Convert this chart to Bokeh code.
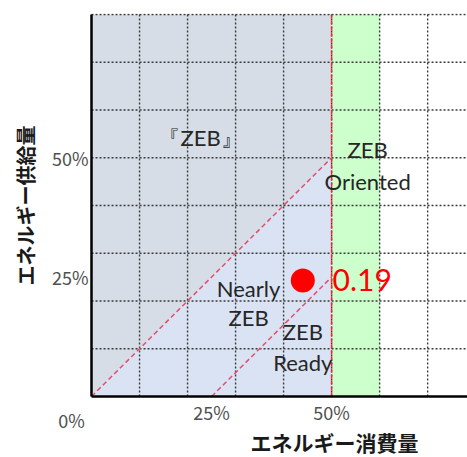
from bokeh.plotting import figure
from bokeh.models import Range1d, FixedTicker, ColumnDataSource
from bokeh.core.properties import value
from bokeh.embed import file_html
from bokeh.resources import INLINE

# ---- data ----
tick_values = [0.25, 0.5]
tick_labels = ["25%", "50%"]
origin_label = "0%"
grid_values = [0.1, 0.2, 0.3, 0.4, 0.5, 0.6, 0.7, 0.8]

zeb_limit = 0.5          # energy consumption threshold
oriented_limit = 0.6     # ZEB Oriented band
x_max = 0.783
y_max = 0.8

zeb_region_x = [0.0, 0.5, 0.5, 0.0]
zeb_region_y = [0.0, 0.5, 0.8, 0.8]
nearly_region_x = [0.0, 0.5, 0.5]
nearly_region_y = [0.0, 0.0, 0.5]

diag_zeb_x = [0.0, 0.5]
diag_zeb_y = [0.0, 0.5]
diag_nearly_x = [0.25, 0.5]
diag_nearly_y = [0.0, 0.25]

point_x = [0.44]
point_y = [0.243]
point_label = "0.19"

region_names = ["『ZEB』", "ZEB", "Oriented", "Nearly", "ZEB", "ZEB", "Ready"]

x_title = "エネルギー消費量"
y_title = "エネルギー供給量"

# ---- figure ----
# frame spans the whole figure; axes are pinned at the origin
p = figure(width=467, height=457, output_backend="svg", toolbar_location=None,
           x_range=Range1d(-0.1896, x_max), y_range=Range1d(-0.1278, 0.802),
           min_border_left=0, min_border_right=0, min_border_top=13,
           min_border_bottom=0)
p.outline_line_color = None
p.background_fill_color = "white"
p.border_fill_color = "white"
p.xgrid.visible = False
p.ygrid.visible = False

# regions
p.patch(zeb_region_x, zeb_region_y, fill_color="#d6dde6", line_color=None)
p.patch(nearly_region_x, nearly_region_y, fill_color="#dae3f3", line_color=None)
p.quad(left=[zeb_limit], right=[oriented_limit], bottom=[0], top=[y_max],
       fill_color="#ccffcc", line_color=None)

# dotted grid inside the quadrant
vx = [g for g in grid_values if g < x_max]
p.segment(x0=vx, y0=[0] * len(vx), x1=vx, y1=[y_max] * len(vx),
          line_color="#3a3a3a", line_dash="2 2", line_width=1.4)
p.segment(x0=[0] * len(grid_values), y0=grid_values, x1=[x_max] * len(grid_values),
          y1=grid_values, line_color="#3a3a3a", line_dash="2 2", line_width=1.4)

# dashed red boundary lines
red = "#e0506e"
p.line(diag_zeb_x, diag_zeb_y, line_color=red, line_dash="5 3", line_width=1.5)
p.line(diag_nearly_x, diag_nearly_y, line_color=red, line_dash="5 3", line_width=1.5)
p.line([zeb_limit, zeb_limit], [0, y_max], line_color="#ff2030", line_dash="4 2", line_width=1.5)

# point
p.scatter(point_x, point_y, size=24, color="#ff0000", line_color=None)
p.text(x=[point_x[0] + 0.062], y=[point_y[0]], text=[point_label], text_color="#ff0000",
       text_font=value("Lato"), text_font_size="30px",
       text_align="left", text_baseline="middle")

# region labels
lab_x = [0.227, 0.575, 0.575, 0.327, 0.327, 0.44, 0.44]
lab_y = [0.543, 0.518, 0.451, 0.226, 0.166, 0.136, 0.071]
src = ColumnDataSource(dict(x=lab_x, y=lab_y, t=region_names))
p.text(x="x", y="y", text="t", source=src, text_color="#262626",
       text_font=value("Lato"), text_font_size="22px",
       text_align="center", text_baseline="middle")

# axes pinned at the origin
xa, ya = p.xaxis[0], p.yaxis[0]
xa.fixed_location = 0
ya.fixed_location = 0
xa.bounds = (0, x_max)
ya.bounds = (0, y_max)
for ax in (xa, ya):
    ax.ticker = FixedTicker(ticks=tick_values)
    ax.major_label_overrides = dict(zip(tick_values, tick_labels))
    ax.major_tick_line_color = None
    ax.minor_tick_line_color = None
    ax.axis_line_color = "black"
    ax.axis_line_width = 2.5
    ax.major_label_text_font = "Noto Sans CJK JP"
    ax.major_label_text_font_size = "18px"
    ax.major_label_text_color = "#505050"

xa.major_label_standoff = -3
ya.major_label_standoff = -3
ya.axis_label = y_title
ya.axis_label_text_font = "Noto Sans CJK JP"
ya.axis_label_text_font_style = "bold"
ya.axis_label_text_font_size = "20px"
ya.axis_label_text_color = "#1a1a1a"
ya.axis_label_standoff = 9

# corner origin label and x title (below the quadrant)
p.text(x=[0], y=[0], text=[origin_label], x_offset=-20, y_offset=24,
       text_font=value("Noto Sans CJK JP"), text_font_size="18px",
       text_color="#505050", text_align="center", text_baseline="middle")
p.text(x=[zeb_limit], y=[0], text=[x_title], x_offset=3, y_offset=46,
       text_font=value("Noto Sans CJK JP"), text_font_style="bold",
       text_font_size="21px", text_color="#1a1a1a",
       text_align="center", text_baseline="middle")

open("out.html", "w").write(file_html(p, INLINE))
